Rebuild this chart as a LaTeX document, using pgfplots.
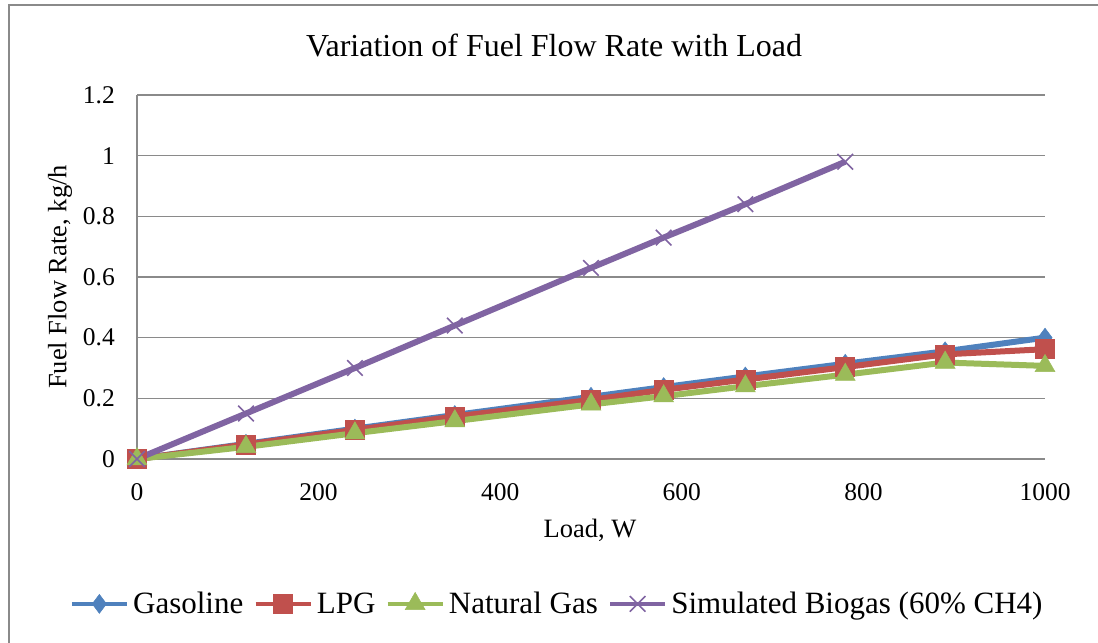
\documentclass[border=0pt]{standalone}
\usepackage{fontspec}
\setmainfont{Liberation Serif}
\usepackage{pgfplots}
\pgfplotsset{compat=1.18}

\definecolor{gasblue}{HTML}{4F81BD}
\definecolor{lpgred}{HTML}{C0504D}
\definecolor{ngreen}{HTML}{9BBB59}
\definecolor{biopurple}{HTML}{8064A2}
\definecolor{gridgray}{HTML}{8A8A8A}

\newcommand{\titlefont}{\fontsize{32bp}{36bp}\selectfont}
\newcommand{\labfont}{\fontsize{26.5bp}{30bp}\selectfont}
\newcommand{\tickfont}{\fontsize{25.5bp}{30bp}\selectfont}
\newcommand{\legfont}{\fontsize{31bp}{36bp}\selectfont}

\begin{document}
\begin{tikzpicture}
\useasboundingbox (0bp,0bp) rectangle (1098bp,643bp);
\draw[line width=2bp, gridgray] (9bp,0bp) -- (9bp,638bp) -- (1098bp,638bp);
\begin{axis}[
    at={(137bp,184bp)}, anchor=south west,
    scale only axis, width=908bp, height=364bp,
    xmin=0, xmax=1000, ymin=0, ymax=1.2,
    xtick={0,200,400,600,800,1000},
    xticklabels={0,200,400,600,800,1000},
    ytick={0,0.2,0.4,0.6,0.8,1,1.2},
    yticklabels={0,0.2,0.4,0.6,0.8,1,1.2},
    axis lines*=left,
    axis line style={draw=gridgray, line width=1.3bp, -},
    ymajorgrids,
    grid style={draw=gridgray, line width=1.3bp},
    major tick length=0pt,
    tick style={draw=none},
    tick label style={font=\tickfont},
    /pgf/number format/assume math mode=true,
    yticklabel style={inner sep=0pt, xshift=-22bp},
    xticklabel style={inner sep=0pt, yshift=-24bp},
    clip=false,
    legend columns=4,
    legend style={at={(0.4615,-0.398)}, anchor=center, draw=none, fill=none,
        font=\legfont, inner sep=0pt, nodes={inner sep=0pt},
        /tikz/every odd column/.append style={column sep=4bp},
        /tikz/every even column/.append style={column sep=10bp}},
    legend image code/.code={
        \draw[mark repeat=2, mark phase=2, line width=4.5bp]
            plot coordinates {(0bp,0bp) (27.5bp,0bp) (55bp,0bp)};
    },
]
\addplot[gasblue, line width=6bp, mark=diamond*, mark size=9.5bp,
    mark options={solid, line width=0.5bp}] coordinates {
    (0,0) (120,0.05) (240,0.10) (350,0.145) (500,0.205) (580,0.237)
    (670,0.272) (780,0.314) (890,0.355) (1000,0.40)
};
\addlegendentry{Gasoline}
\addplot[lpgred, line width=6bp, mark=square*, mark size=9.5bp,
    mark options={solid, line width=0.5bp}] coordinates {
    (0,0) (120,0.048) (240,0.096) (350,0.14) (500,0.195) (580,0.228)
    (670,0.262) (780,0.303) (890,0.345) (1000,0.362)
};
\addlegendentry{LPG}
\addplot[ngreen, line width=6bp, mark=triangle*, mark size=11.5bp,
    mark options={solid, line width=0.5bp}] coordinates {
    (0,0) (120,0.04) (240,0.085) (350,0.125) (500,0.18) (580,0.207)
    (670,0.24) (780,0.278) (890,0.318) (1000,0.307)
};
\addlegendentry{Natural Gas}
\addplot[biopurple, line width=6bp, mark=x, mark size=11bp,
    mark options={solid, line width=1.6bp}] coordinates {
    (0,0) (120,0.15) (240,0.30) (350,0.44) (500,0.63) (580,0.73)
    (670,0.84) (780,0.98)
};
\addlegendentry{Simulated Biogas (60\% CH4)}
\end{axis}
\node[font=\titlefont] at (554bp,598bp) {Variation of Fuel Flow Rate with Load};
\node[font=\labfont, rotate=90] at (60bp,366bp) {Fuel Flow Rate, kg/h};
\node[font=\labfont] at (590bp,113bp) {Load, W};
\end{tikzpicture}
\end{document}
